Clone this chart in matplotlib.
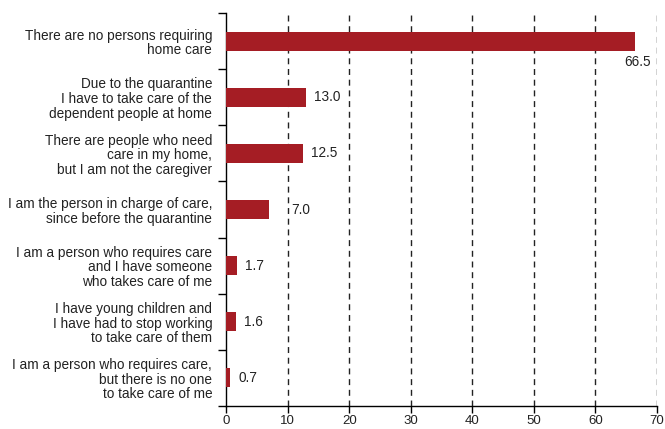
import matplotlib
matplotlib.use("Agg")
import matplotlib.pyplot as plt

categories = [
    "There are no persons requiring\nhome care",
    "Due to the quarantine\nI have to take care of the\ndependent people at home",
    "There are people who need\ncare in my home,\nbut I am not the caregiver",
    "I am the person in charge of care,\nsince before the quarantine",
    "I am a person who requires care\nand I have someone\nwho takes care of me",
    "I have young children and\nI have had to stop working\nto take care of them",
    "I am a person who requires care,\nbut there is no one\nto take care of me",
]
values = [66.5, 13.0, 12.5, 7.0, 1.7, 1.6, 0.7]
xticks = [0, 10, 20, 30, 40, 50, 60, 70]

plt.rcParams['font.family'] = ['Liberation Sans', 'DejaVu Sans']
fig = plt.figure(figsize=(6.65, 4.29), dpi=100)
ax = fig.add_axes([0.340, 0.0536, 0.648, 0.916])

n = len(categories)
ypos = list(range(n))[::-1]
color = "#a51d24"
ax.barh(ypos, values, height=0.34, color=color, zorder=3)

fs = 9.8
tc = "#222222"
for y, v in zip(ypos, values):
    if v > 60:
        ax.text(v + 0.3, y - 0.25, f"{v:.1f}", ha="center", va="top", fontsize=fs, color=tc)
    elif 5 < v < 10:
        ax.text(10.6, y, f"{v:.1f}", ha="left", va="center", fontsize=fs, color=tc)
    else:
        ax.text(v + 1.3, y, f"{v:.1f}", ha="left", va="center", fontsize=fs, color=tc)

ax.set_xlim(0, 70)
ax.set_ylim(-0.5, n - 0.5)
ax.set_xticks(xticks)
ax.set_xticklabels([str(t) for t in xticks], fontsize=9.5, color=tc)

ax.set_yticks([i - 0.5 for i in range(n + 1)])
ax.set_yticklabels([])
ax.set_yticks(ypos, minor=True)
ax.set_yticklabels(categories, minor=True, fontsize=fs, color=tc, ha="right", linespacing=1.05)
ax.tick_params(axis="y", which="minor", length=0, pad=10)
ax.tick_params(axis="y", which="major", length=6, width=1, direction="out")
ax.tick_params(axis="x", length=5, width=1, direction="out", pad=1.5)

for x in xticks[1:]:
    ax.axvline(x, color="#222222", linestyle=(0, (4.3, 3.4)), linewidth=1, zorder=1)

for s in ["top", "right"]:
    ax.spines[s].set_visible(False)
ax.spines["left"].set_linewidth(1)
ax.spines["bottom"].set_linewidth(1)

fig.savefig("out.png", dpi=100)
